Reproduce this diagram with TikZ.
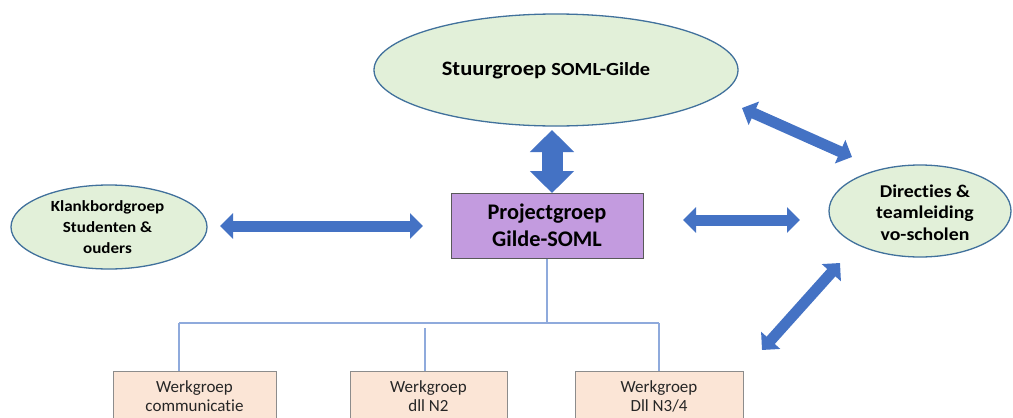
\documentclass[tikz,border=0pt]{standalone}
\usepackage{fontspec}
\setmainfont{Carlito}[Ligatures=NoCommon]
\newfontfamily\ellfont{Carlito}[FakeStretch=1.1, Ligatures=NoCommon]
\usetikzlibrary{shapes.geometric,arrows.meta}
\definecolor{ellfill}{HTML}{E2F0D9}
\definecolor{ellline}{HTML}{41719C}
\definecolor{projfill}{HTML}{C39BDF}
\definecolor{projline}{HTML}{595959}
\definecolor{peach}{HTML}{FBE5D6}
\definecolor{peachline}{HTML}{8C8C8C}
\definecolor{arrblue}{HTML}{4472C4}
\definecolor{treeblue}{HTML}{8FAADC}
\definecolor{txtgray}{HTML}{262626}
\tikzset{
  ell/.style={ellipse, draw=ellline, fill=ellfill, line width=1.3pt, inner sep=0pt},
  projbox/.style={rectangle, draw=projline, fill=projfill, line width=1pt, inner sep=0pt, minimum width=192pt, minimum height=65pt},
  wbox/.style={rectangle, draw=peachline, fill=peach, line width=1pt, inner sep=0pt, minimum height=80pt, anchor=north},
  btxt/.style={align=center, text=black, inner sep=0pt},
  wtxt/.style={align=center, text=txtgray, inner sep=0pt, font=\fontsize{17}{19}\selectfont},
  barrow/.style={draw=arrblue, line width=11pt, arrows={Triangle[width=25pt,length=13pt]-Triangle[width=25pt,length=13pt]}},
  bigarrow/.style={draw=arrblue, line width=21pt, arrows={Triangle[width=43pt,length=22pt]-Triangle[width=43pt,length=22pt]}},
  tree/.style={draw=treeblue, line width=1.3pt}
}
\begin{document}
\begin{tikzpicture}[x=1pt,y=-1pt]
\clip (0,0) rectangle (1013,418);
\fill[white] (0,0) rectangle (1013,418);

% nodes
\node[ell, minimum width=364pt, minimum height=112pt] (stuur) at (556,70) {};
\node[btxt, anchor=base, font=\ellfont\bfseries] (stuurt) at (546,75) {\fontsize{20.5}{24}\selectfont Stuurgroep \fontsize{18.5}{24}\selectfont SOML-Gilde};

\node[ell, minimum width=196pt, minimum height=84pt] (klank) at (109,227) {};
\node[btxt, font=\ellfont\bfseries\fontsize{15.5}{21}\selectfont] (klankt) at (107.5,227.6) {Klankbordgroep\\Studenten \&\\ouders};

\node[ell, minimum width=182pt, minimum height=92pt] (dir) at (920,211) {};
\node[btxt, font=\ellfont\bfseries\fontsize{18}{21.5}\selectfont] (dirt) at (925,212.5) {Directies \&\\teamleiding\\vo-scholen};

\node[projbox] (proj) at (547,225.5) {};
\node[btxt, font=\bfseries\fontsize{22.3}{27}\selectfont] (projt) at (547,225.4) {Projectgroep\\Gilde-SOML};

% tree lines
\coordinate (hl) at (179,323);
\coordinate (hr) at (659,323);
\coordinate (m2) at (425,328);

\node[wbox, minimum width=163pt] (w1) at (194.5,371) {};
\node[wbox, minimum width=157pt] (w2) at (428.5,371) {};
\node[wbox, minimum width=168pt] (w3) at (659,371) {};

\draw[tree] (proj.south) -- (proj.south |- hl);
\draw[tree] (hl) -- (hr);
\draw[tree] (hl) -- (hl |- w1.north);
\draw[tree] (m2) -- (m2 |- w2.north);
\draw[tree] (hr) -- (hr |- w3.north);

\node[wtxt] (w1t) at (194.5,396.5) {Werkgroep\\communicatie};
\node[wtxt] (w2t) at (428.5,396.5) {Werkgroep\\dll N2};
\node[wtxt] (w3t) at (659,396.5) {Werkgroep\\Dll N3/4};

% block arrows
\coordinate (a1s) at (552,130);
\coordinate (a1e) at (552,193);
\draw[bigarrow] (a1s) -- (a1e);

\coordinate (a2s) at (220,226);
\coordinate (a2e) at (423,226);
\draw[barrow] (a2s) -- (a2e);

\coordinate (a3s) at (683,220);
\coordinate (a3e) at (800,220);
\draw[barrow] (a3s) -- (a3e);

\coordinate (a4s) at (742,108);
\coordinate (a4e) at (852,157);
\draw[barrow] (a4s) -- (a4e);

\coordinate (a5s) at (840,263);
\coordinate (a5e) at (762,350);
\draw[barrow] (a5s) -- (a5e);
\end{tikzpicture}
\end{document}
